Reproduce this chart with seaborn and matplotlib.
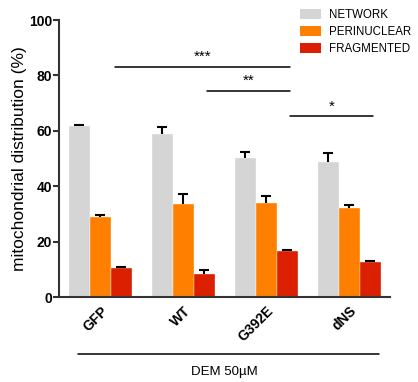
import matplotlib
matplotlib.use("Agg")
import matplotlib.pyplot as plt
import seaborn as sns
import pandas as pd
from matplotlib.patches import Patch

groups = ["GFP", "WT", "G392E", "dNS"]
categories = ["NETWORK", "PERINUCLEAR", "FRAGMENTED"]
network = [61.8, 59.0, 50.1, 48.7]
perinuclear = [28.9, 33.5, 33.9, 32.0]
fragmented = [10.4, 8.4, 16.6, 12.6]
network_sem = [0.3, 2.5, 2.4, 3.2]
perinuclear_sem = [0.6, 3.6, 2.7, 1.1]
fragmented_sem = [0.5, 1.2, 0.4, 0.5]
y_ticks = [0, 20, 40, 60, 80, 100]
# significance brackets: (x start, x end, y, label)
brackets = [(0.175, 2.29, 83.1, "***"), (1.28, 2.29, 74.5, "**"), (2.29, 3.29, 65.3, "*")]
treatment = "DEM 50µM"

colors = ["#D5D5D5", "#FF8000", "#DA2000"]

values = [network, perinuclear, fragmented]
sems = [network_sem, perinuclear_sem, fragmented_sem]
rows = []
for cat, vals, errs in zip(categories, values, sems):
    for g, v, e in zip(groups, vals, errs):
        rows.append({"group": g, "type": cat, "value": v, "sem": e})
df = pd.DataFrame(rows)

sns.set_style("ticks")
plt.rcParams["font.family"] = ["Liberation Sans", "DejaVu Sans"]
plt.rcParams["text.color"] = "black"
plt.rcParams["axes.labelcolor"] = "black"
plt.rcParams["xtick.color"] = "black"
plt.rcParams["ytick.color"] = "black"

fig = plt.figure(figsize=(4.18, 3.82), dpi=100)
ax = fig.add_axes([0.141, 0.2225, 0.792, 0.725])

sns.barplot(data=df, x="group", y="value", hue="type", order=groups,
            hue_order=categories, palette=colors, saturation=1, width=0.76,
            gap=0, errorbar=None, edgecolor="#FFFFFF", linewidth=0.25,
            legend=False, ax=ax)

# upper-only SEM bars: stem from the bar top, cap at mean + sem
for container, errs in zip(ax.containers, sems):
    for bar, e in zip(container, errs):
        xc = bar.get_x() + bar.get_width() / 2
        h = bar.get_height()
        ax.plot([xc, xc], [h, h + e], color="black", lw=1.5,
                solid_capstyle="butt", zorder=3)
        ax.plot([xc], [h + e], marker="_", markersize=6.8,
                markeredgewidth=1.5, color="black", zorder=3)

for x0, x1, y, label in brackets:
    ax.plot([x0, x1], [y, y], color="black", lw=1.1, clip_on=False)
    ax.text((x0 + x1) / 2, y + 1.0, label, ha="center", va="bottom",
            fontsize=11)

ax.set_xlim(-0.5, 3.49)
ax.set_ylim(0, 100)
ax.set_yticks(y_ticks)
ax.set_yticklabels([str(t) for t in y_ticks], fontsize=10, fontweight="bold")
ax.set_xticks(range(len(groups)))
ax.set_xticklabels(groups, rotation=45, ha="right", rotation_mode="anchor",
                   fontsize=10, fontweight="bold")
ax.tick_params(axis="x", length=0, pad=5)
ax.tick_params(axis="y", length=4, width=1.5, color="#333333", pad=1)
ax.set_xlabel("")
ax.set_ylabel("mitochondrial distribution (%)", fontsize=12.5, labelpad=1.5)

for side in ["top", "right"]:
    ax.spines[side].set_visible(False)
for side in ["left", "bottom"]:
    ax.spines[side].set_linewidth(1.5)
    ax.spines[side].set_color("#333333")
    ax.spines[side].set_zorder(4)

# treatment line below the group labels
ax.plot([0.057, 0.967], [-0.206, -0.206], transform=ax.transAxes,
        color="black", lw=1.1, clip_on=False)
ax.text(0.5, -0.27, treatment, transform=ax.transAxes, ha="center",
        va="center", fontsize=9.5)

handles = [Patch(facecolor=c, edgecolor="none") for c in colors]
fig.legend(handles, categories, loc="upper left", bbox_to_anchor=(0.70, 0.995),
           frameon=False, fontsize=8.3, handlelength=1.9, handleheight=0.9,
           handletextpad=0.7, labelspacing=0.45, borderaxespad=0.2)

fig.savefig("out.png", dpi=100)
